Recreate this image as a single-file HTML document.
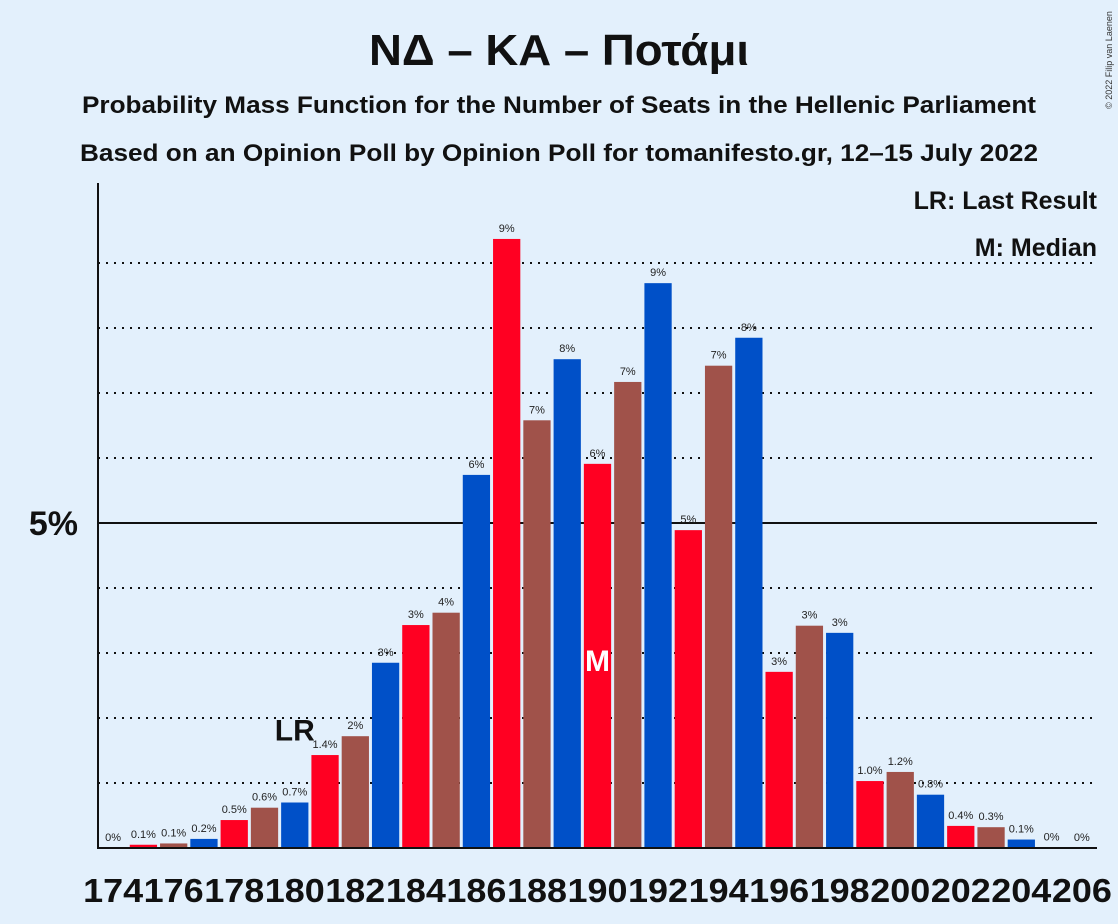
<!DOCTYPE html>
<html><head><meta charset="utf-8"><style>
body{margin:0;background:#E3F0FC;font-family:"Liberation Sans",sans-serif;}
svg{display:block}
</style></head><body>
<svg id="chart" width="1118" height="924">
<rect width="1118" height="924" fill="#E3F0FC"/>
<text x="559" y="65" text-anchor="middle" font-size="44" font-weight="bold" fill="#111" textLength="380" lengthAdjust="spacingAndGlyphs">ΝΔ – ΚΑ – Ποτάμι</text>
<text x="559" y="113" text-anchor="middle" font-size="24" font-weight="bold" fill="#111" textLength="954" lengthAdjust="spacingAndGlyphs">Probability Mass Function for the Number of Seats in the Hellenic Parliament</text>
<text x="559" y="161" text-anchor="middle" font-size="24" font-weight="bold" fill="#111" textLength="958" lengthAdjust="spacingAndGlyphs">Based on an Opinion Poll by Opinion Poll for tomanifesto.gr, 12–15 July 2022</text>
<text x="1112" y="60" font-size="9" fill="#333" transform="rotate(-90 1112 60)" text-anchor="middle">© 2022 Filip van Laenen</text>
<g id="grid"></g>
<g id="bars"></g>
<g id="xlabels"></g>
<line x1="98" y1="183" x2="98" y2="848" stroke="#111" stroke-width="2"/>
<line x1="97" y1="848" x2="1097" y2="848" stroke="#111" stroke-width="2"/>
<text x="78" y="535" text-anchor="end" font-size="34" font-weight="bold" fill="#111">5%</text>
<text x="1097" y="209" text-anchor="end" font-size="25" font-weight="bold" fill="#111">LR: Last Result</text>
<text x="1097" y="256" text-anchor="end" font-size="25" font-weight="bold" fill="#111">M: Median</text>
</svg>
<script>
const seats=[174,175,176,177,178,179,180,181,182,183,184,185,186,187,188,189,190,191,192,193,194,195,196,197,198,199,200,201,202,203,204,205,206];
const probs=[0,0.05,0.07,0.14,0.43,0.62,0.7,1.43,1.72,2.85,3.43,3.62,5.74,9.37,6.58,7.52,5.91,7.17,8.69,4.89,7.42,7.85,2.71,3.42,3.31,1.03,1.17,0.82,0.34,0.32,0.13,0.01,0];
const labels=["0%","0.1%","0.1%","0.2%","0.5%","0.6%","0.7%","1.4%","2%","3%","3%","4%","6%","9%","7%","8%","6%","7%","9%","5%","7%","8%","3%","3%","3%","1.0%","1.2%","0.8%","0.4%","0.3%","0.1%","0%","0%"];
const gridTicks=[1,2,3,4,5,6,7,8,9];
const lastResult=180, median=190;
const NS="http://www.w3.org/2000/svg";
const x0=98,slot=999/33,base=848,ppu=65;
const xs=s=>x0+(s-174)*slot;
const ys=v=>base-v*ppu;
const colors=["#0050C8","#FF0022","#A0524A"];
function mk(tag,attrs,parent,txt){const e=document.createElementNS(NS,tag);for(const k in attrs)e.setAttribute(k,attrs[k]);if(txt!==undefined)e.textContent=txt;document.getElementById(parent).appendChild(e);return e;}
gridTicks.forEach(t=>{
 const l=mk('line',{x1:98,x2:1097,y1:ys(t),y2:ys(t),stroke:'#111','stroke-width':2,'stroke-dasharray':t===5?'none':'2,6'},'grid');
 
 
});
seats.forEach((s,i)=>{
 const v=probs[i];
 const r=mk('rect',{x:xs(s)+1.5,y:ys(v),width:slot-3,height:v*ppu,fill:colors[(s-174)%3]},'bars');
 
 
 const t=mk('text',{x:xs(s)+slot/2,y:ys(v)-7,'text-anchor':'middle','font-size':11,fill:'#222'},'bars',labels[i]);
 
 
 if(s%2===0){
  const xl=mk('text',{x:xs(s)+slot/2,y:902,'text-anchor':'middle','font-size':33,'font-weight':'bold',fill:'#111',textLength:60,lengthAdjust:'spacingAndGlyphs'},'xlabels',String(s));
  
  
 }
 if(s===lastResult){
  const lr=mk('text',{x:xs(s)+slot/2,y:ys(v)-62,'text-anchor':'middle','font-size':30,'font-weight':'bold',fill:'#111'},'bars','LR');
  
  
 }
 if(s===median){
  const m=mk('text',{x:xs(s)+slot/2,y:671,'text-anchor':'middle','font-size':30,'font-weight':'bold',fill:'#fff'},'bars','M');
  
  
 }
});
</script>
</body></html>
